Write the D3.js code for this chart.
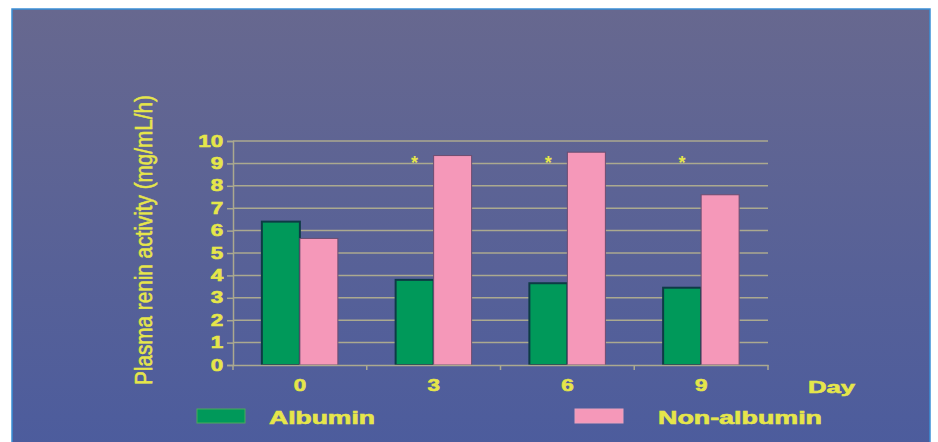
<!DOCTYPE html>
<html>
<head>
<meta charset="utf-8">
<script src="https://cdn.jsdelivr.net/npm/d3@7"></script>
<style>
  html, body { margin: 0; padding: 0; background: #fff; }
  svg { display: block; }
  text { font-family: "Liberation Sans", Arial, sans-serif; fill: #e6e64a; }
</style>
</head>
<body>
<div id="chart"></div>
<script>
// Days on the x axis
const days = ['0', '3', '6', '9'];
const series = ['Albumin', 'Non-albumin'];
// Plasma renin activity
const albumin = [6.4, 3.8, 3.65, 3.45];
const nonAlbumin = [5.65, 9.35, 9.5, 7.6];
// days that carry an asterisk (significant difference)
const starred = ['3', '6', '9'];
const yTicks = [0, 1, 2, 3, 4, 5, 6, 7, 8, 9, 10];

const width = 938;
const height = 442;
const stretch = 1.4; // the slide text is wide, squash it back out
const textColor = '#e6e64a';
const gridColor = '#aba98f';
const colors = {'Albumin': '#00995a', 'Non-albumin': '#f598b9'};
const strokes = {'Albumin': '#0d3b45', 'Non-albumin': '#6c4d70'};

const svg = d3.select('#chart').append('svg')
  .attr('width', width)
  .attr('height', height);

const defs = svg.append('defs');
const grad = defs.append('linearGradient')
  .attr('id', 'bg')
  .attr('x1', 0).attr('y1', 0)
  .attr('x2', 0).attr('y2', 1);
grad.append('stop').attr('offset', '0%').attr('stop-color', '#67688f');
grad.append('stop').attr('offset', '100%').attr('stop-color', '#4c5c9d');

// panel
svg.append('rect')
  .attr('x', 12)
  .attr('y', 9)
  .attr('width', 918)
  .attr('height', 440)
  .attr('fill', 'url(#bg)')
  .attr('stroke', '#3a8fd6')
  .attr('stroke-width', 1.5);

const x = d3.scaleBand()
  .domain(days)
  .range([233, 768])
  .padding(0);

const xSub = d3.scaleBand()
  .domain(series)
  .range([0, x.bandwidth()])
  .paddingInner(0)
  .paddingOuter(0.76);

const y = d3.scaleLinear()
  .domain([0, 10])
  .range([365, 141]);

// heavy slide lettering
function heavy(sel, size) {
  sel.attr('fill', textColor)
    .attr('stroke', textColor)
    .attr('stroke-width', 0.6)
    .attr('font-size', size)
    .attr('font-weight', 'bold')
    .attr('font-family', '"Liberation Sans", Arial, sans-serif');
}

// gridlines
svg.append('g')
  .selectAll('line')
  .data(yTicks.filter((d) => d > 0))
  .join('line')
  .attr('x1', x.range()[0])
  .attr('x2', x.range()[1])
  .attr('y1', (d) => y(d))
  .attr('y2', (d) => y(d))
  .attr('stroke', gridColor)
  .attr('stroke-width', 1.5);

// y axis
const yAxis = svg.append('g')
  .attr('transform', `translate(${x.range()[0]},0)`)
  .call(d3.axisLeft(y).tickValues(yTicks).tickSize(6).tickPadding(1));
yAxis.selectAll('path, line').attr('stroke', gridColor).attr('stroke-width', 1.5);
yAxis.selectAll('text')
  .call(heavy, 16)
  .attr('transform', `scale(${stretch},1)`);

// bars
const rows = days.map((d, i) => ({day: d, values: [
  {key: 'Albumin', value: albumin[i]},
  {key: 'Non-albumin', value: nonAlbumin[i]}
]}));

const group = svg.append('g')
  .selectAll('g')
  .data(rows)
  .join('g')
  .attr('transform', (d) => `translate(${x(d.day)},0)`);

group.selectAll('rect')
  .data((d) => d.values)
  .join('rect')
  .attr('x', (d) => xSub(d.key))
  .attr('width', xSub.bandwidth())
  .attr('y', (d) => y(d.value))
  .attr('height', (d) => y(0) - y(d.value))
  .attr('fill', (d) => colors[d.key])
  .attr('stroke', (d) => strokes[d.key])
  .attr('stroke-width', (d) => d.key === 'Albumin' ? 2 : 1);

// x axis line and boundary ticks
const xAxis = svg.append('g')
  .attr('transform', `translate(0,${y(0)})`)
  .call(d3.axisBottom(x).tickSize(0).tickPadding(15));
xAxis.select('.domain').attr('stroke', gridColor).attr('stroke-width', 1.5);
xAxis.selectAll('text')
  .call(heavy, 16)
  .attr('transform', `scale(${stretch},1)`)
  .attr('x', 0);

xAxis.append('g')
  .selectAll('line')
  .data(days.map((d) => x(d)).concat([x.range()[1]]))
  .join('line')
  .attr('x1', (d) => d)
  .attr('x2', (d) => d)
  .attr('y1', 0)
  .attr('y2', 5)
  .attr('stroke', gridColor)
  .attr('stroke-width', 1.5);

svg.append('text')
  .attr('x', 808)
  .attr('y', 393)
  .call(heavy, 17)
  .attr('textLength', 47)
  .attr('lengthAdjust', 'spacingAndGlyphs')
  .text('Day');

// asterisks over the albumin bars
svg.append('g')
  .selectAll('text')
  .data(starred)
  .join('text')
  .attr('x', (d) => x(d) + xSub('Albumin') + xSub.bandwidth() / 2)
  .attr('y', y(9.2) + 10)
  .attr('text-anchor', 'middle')
  .attr('font-size', 18)
  .attr('font-weight', 'bold')
  .attr('fill', '#cfcf62')
  .text('*');

// y axis title
svg.append('text')
  .attr('transform', `translate(152,240) scale(${stretch},1) rotate(-90)`)
  .attr('text-anchor', 'middle')
  .attr('font-size', 17)
  .attr('stroke', textColor)
  .attr('stroke-width', 0.4)
  .attr('textLength', 290)
  .attr('lengthAdjust', 'spacingAndGlyphs')
  .text('Plasma renin activity (mg/mL/h)');

// legend
const legendItems = [
  {key: 'Albumin', rx: 197, tx: 269, tw: 106},
  {key: 'Non-albumin', rx: 575, tx: 658, tw: 164}
];
const legend = svg.append('g')
  .selectAll('g')
  .data(legendItems)
  .join('g');

legend.append('rect')
  .attr('x', (d) => d.rx)
  .attr('y', 409)
  .attr('width', 48)
  .attr('height', 14)
  .attr('fill', (d) => colors[d.key])
  .attr('stroke', (d) => d.key === 'Albumin' ? '#4caa5a' : '#e7a2be')
  .attr('stroke-width', 1);

legend.append('text')
  .attr('x', (d) => d.tx)
  .attr('y', 424)
  .call(heavy, 18)
  .attr('textLength', (d) => d.tw)
  .attr('lengthAdjust', 'spacingAndGlyphs')
  .text((d) => d.key);
</script>
</body>
</html>
